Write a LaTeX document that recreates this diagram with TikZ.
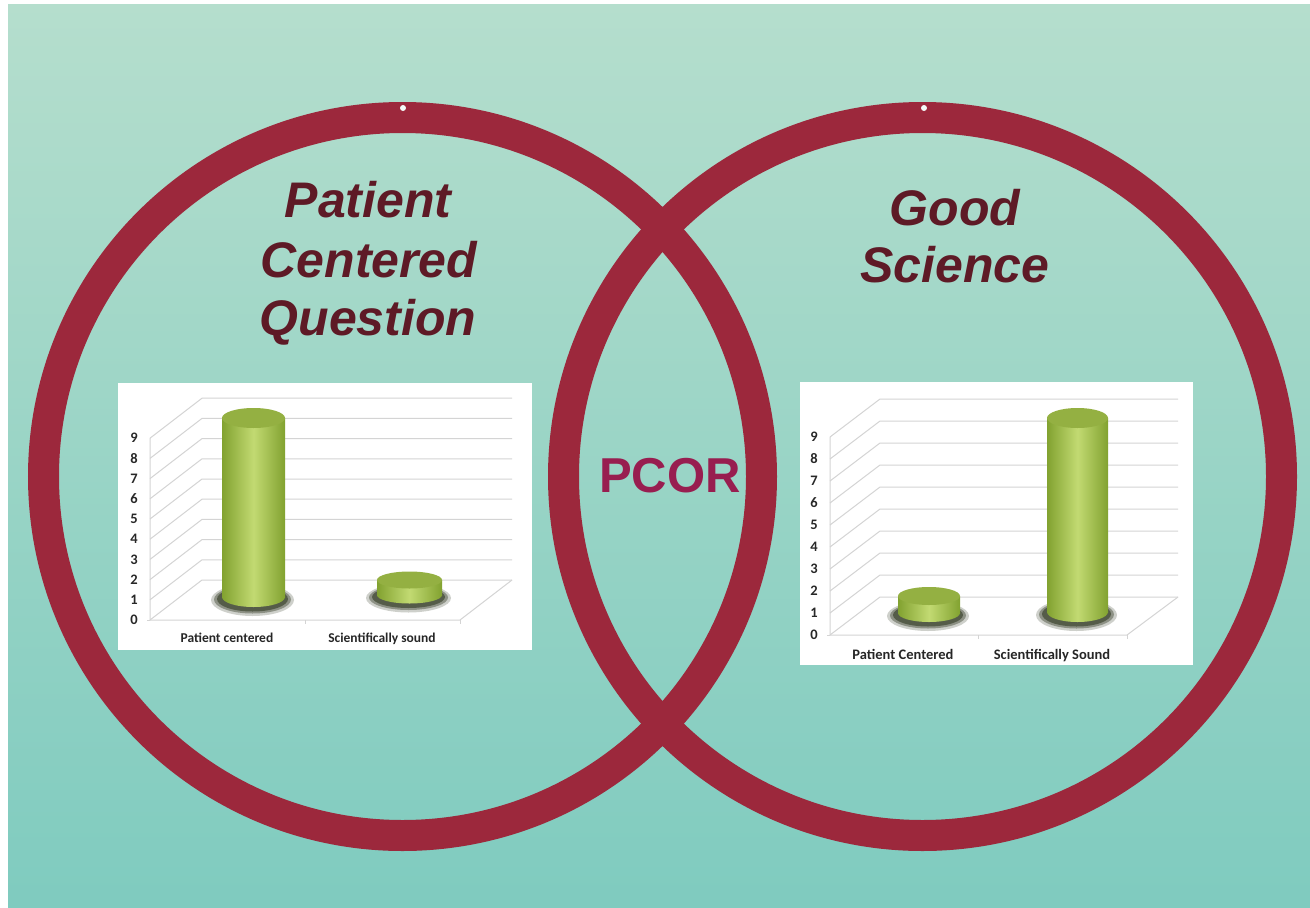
\documentclass[tikz,border=0pt]{standalone}
\usepackage{fontspec}
\setmainfont{Liberation Sans}
\newfontfamily\chartfont{Carlito}
\definecolor{bgtop}{RGB}{181,222,205}
\definecolor{bgbot}{RGB}{127,203,191}
\definecolor{ringred}{RGB}{156,40,60}
\definecolor{titlered}{RGB}{94,26,38}
\definecolor{pcorred}{RGB}{152,30,80}
\definecolor{gridgray}{RGB}{212,212,212}
\definecolor{numgray}{RGB}{40,40,40}
\definecolor{cylD}{RGB}{130,162,48}
\definecolor{cylL}{RGB}{194,218,114}
\definecolor{cylT}{RGB}{148,176,66}
\definecolor{shadowc}{RGB}{62,70,48}
\tikzset{
  ring/.style={draw=ringred, line width=31},
  titletext/.style={text=titlered, font=\fontsize{50}{59}\selectfont\bfseries\itshape, anchor=base, inner sep=0},
  pcortext/.style={text=pcorred, font=\fontsize{49}{58}\selectfont\bfseries, anchor=base, inner sep=0},
  chartbox/.style={fill=white},
  gridline/.style={draw=gridgray, line width=1},
  axisnum/.style={text=numgray, font=\chartfont\bfseries\fontsize{14.5}{16}\selectfont, inner sep=0},
  catlabel/.style={text=black!85, font=\chartfont\bfseries\fontsize{#1}{16}\selectfont, anchor=base, inner sep=0},
  catlabel/.default=13.5,
}
% cylinder bar: centre x, top y, bottom y, x radius, y radius
\newcommand\cylbar[5]{%
  \fill[shadowc, opacity=.25] ({#1-1},{#3+3}) ellipse[x radius={#4+10}, y radius={#5+6}];
  \fill[shadowc, opacity=.45] ({#1-1},{#3+2.5}) ellipse[x radius={#4+7}, y radius={#5+4}];
  \fill[shadowc, opacity=.7] ({#1-1},{#3+2}) ellipse[x radius={#4+4}, y radius={#5+2.5}];
  \shade[left color=cylD, right color=cylD, middle color=cylL] ({#1-#4},#2) rectangle ({#1+#4},#3);
  \shade[left color=cylD, right color=cylD, middle color=cylL] (#1,#3) ellipse[x radius=#4, y radius=#5];
  \fill[cylT] (#1,#2) ellipse[x radius=#4, y radius=#5];
}
\begin{document}
\begin{tikzpicture}[x=1pt,y=-1pt]
\useasboundingbox (0,0) rectangle (1310,908);
% page and gradient background
\fill[white] (0,0) rectangle (1310,908);
\shade[top color=bgtop, bottom color=bgbot] (8,4) rectangle (1310,908);

% the two rings
\draw[ring] (402.5,476.5) circle[x radius=359, y radius=359];
\draw[ring] (922.5,476.5) circle[x radius=359, y radius=359];
\fill[white!85!bgtop] (403,108) circle[x radius=3, y radius=3];
\fill[white!85!bgtop] (924,108) circle[x radius=3, y radius=3];

% titles
\node[titletext] (t1) at (368,217) {Patient};
\node[titletext] (t2) at (369,277) {Centered};
\node[titletext] (t3) at (368,335) {Question};
\node[titletext] (g1) at (955,225) {Good};
\node[titletext] (g2) at (955,282) {Science};
\node[pcortext] (pcor) at (670,492) {PCOR};

% left chart
\fill[chartbox] (118,383) rectangle (532,650);
\foreach \k [evaluate=\k as \yf using 620-20.2*\k, evaluate=\k as \yb using 580-20.2*\k] in {0,...,9} {
  \draw[gridline] (150,\yf) -- (202,\yb) -- (512,\yb);
  \node[axisnum] (la\k) at (134,\yf) {\k};
}
\draw[gridline] (150,438) -- (150,620) -- (460,620) -- (512,580);
\draw[gridline] (150,620) -- (147,620);
\draw[gridline] (305,620) -- (305,624);
\draw[gridline] (460,620) -- (460,624);
\cylbar{253.5}{418}{597}{31.5}{10}
\cylbar{409.5}{580}{595}{32.5}{8.5}
\node[catlabel] (lc1) at (227,642) {Patient centered};
\node[catlabel] (lc2) at (382,642) {Scientifically sound};

% right chart
\fill[chartbox] (800,382) rectangle (1193,665);
\foreach \k [evaluate=\k as \yf using 635-22*\k, evaluate=\k as \yb using 597-22*\k] in {0,...,9} {
  \draw[gridline] (830,\yf) -- (880,\yb) -- (1178,\yb);
  \node[axisnum] (ra\k) at (814,\yf) {\k};
}
\draw[gridline] (830,437) -- (830,635) -- (1127,635) -- (1178,597);
\draw[gridline] (830,635) -- (827,635);
\draw[gridline] (978,635) -- (978,639);
\draw[gridline] (1127,635) -- (1127,639);
\cylbar{929}{596}{613}{31}{9}
\cylbar{1077.5}{418}{612}{30.5}{10}
\node[catlabel=14.5] (rc1) at (903,659) {Patient Centered};
\node[catlabel=14.5] (rc2) at (1052,659) {Scientifically Sound};
\end{tikzpicture}
\end{document}
